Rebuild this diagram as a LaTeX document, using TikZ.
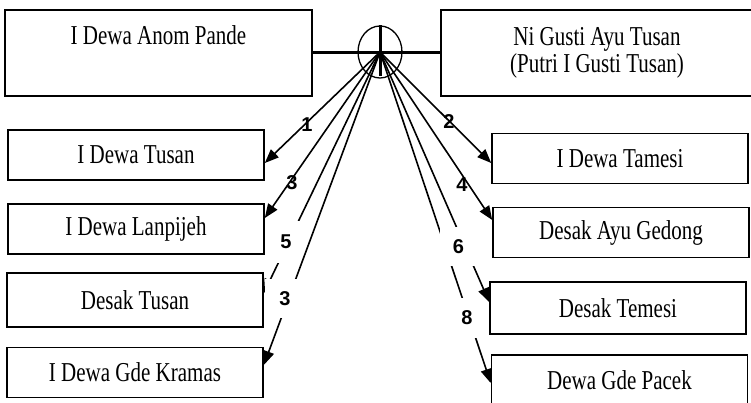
\documentclass[tikz,border=0pt]{standalone}
\usepackage{fontspec}
\setmainfont{Liberation Serif}
\newfontfamily\digitfont{Liberation Sans}
\usepackage{graphicx}
\usetikzlibrary{positioning, arrows.meta, shapes}
\newcommand{\tallText}[1]{\scalebox{1}[1.3]{#1}}

\begin{document}
\begin{tikzpicture}[
		x=1pt, y=-1pt,
		% GLOBAL CFG
		font=\fontsize{21}{27}\selectfont,
		>={Triangle[length=14pt,width=11pt]},
		% Styles
		parent/.style={% For the two parents
			rectangle,
			draw,
			line width=1.6pt,
			align=center,
			minimum height=86pt,
		},
		child/.style={% For the children
			rectangle,
			draw,
			line width=1.6pt,
			minimum width=256pt,
			minimum height=50pt,
		},
		knot/.style={% The marriage sign
			ellipse,
			draw,
			line width=1.3pt,
			minimum width=44pt,
			minimum height=52pt,
		},
		num/.style={% Birth order numbers
			font=\digitfont\bfseries\fontsize{20}{20}\selectfont,
			inner sep=1pt,
		},
		numbox/.style={% Numbers whose box hides the lines
			num,
			fill=white,
		},
		descent/.style={% Lines down to the children
			->,
			line width=1.6pt,
		},
		]
		\useasboundingbox (0,0) rectangle (751,403);
		\clip (0,0) rectangle (751,403);
		
		% Draw the parents
		\node [parent, minimum width=307pt,
			label={[anchor=north, inner sep=0pt, yshift=-16pt]north:\tallText{I Dewa Anom Pande}}] (father) at (158.5,53) {};
		\node [parent, minimum width=312pt] (mother) at (597,53) {\tallText{Ni Gusti Ayu Tusan}\\\tallText{(Putri I Gusti Tusan)}};
		\node [knot] (marriage) at (380,52) {};
		
		% Draw the children, left side named c1,c3,c5,c7
		\node [child] (c1) at (136,155) {\tallText{I Dewa Tusan}};
		\node [child] (c3) at (136,229) {\tallText{I Dewa Lanpijeh}};
		\node [child, minimum height=54pt] (c5) at (135,300) {\tallText{Desak Tusan}};
		\node [child] (c7) at (135,372.5) {\tallText{I Dewa Gde Kramas}};
		
		% Right side named c2,c4,c6,c8
		\node [child] (c2) at (620,158.5) {\tallText{I Dewa Tamesi}};
		\node [child] (c4) at (621,232.5) {\tallText{Desak Ayu Gedong}};
		\node [child, minimum height=52pt] (c6) at (618,308) {\tallText{Desak Temesi}};
		\node [child] (c8) at (619.5,380) {\tallText{Dewa Gde Pacek}};
		
		% The marriage cross
		\draw [line width=3pt] (father.east) -- (mother.west);
		\draw [line width=3pt] (marriage.north) -- ([yshift=3pt]marriage.south);
		
		% Drawing arrows
		\draw [descent] (marriage.center) -- ([yshift=-8pt]c1.east);
		\draw [descent] (marriage.center) -- ([yshift=11pt]c3.east);
		\draw [descent] (marriage.center) -- ([yshift=7pt]c5.east);
		\draw [descent] (marriage.center) -- ([yshift=7.5pt]c7.east);
		\draw [descent] (marriage.center) -- ([yshift=-4.5pt]c2.west);
		\draw [descent] (marriage.center) -- ([yshift=12.5pt]c4.west);
		\draw [descent] (marriage.center) -- ([yshift=6pt]c6.west);
		\draw [descent] (marriage.center) -- ([yshift=-3pt]c8.west);
		
		% Numbers
		\node [num] (n1) at (307,125) {1};
		\node [num] (n3) at (292,183) {3};
		\node [numbox, minimum width=28pt, minimum height=42pt] (n5) at (286,242) {5};
		\node [numbox, minimum width=40pt, minimum height=39pt] (n7) at (285,298.5) {3};
		\node [num] (n2) at (449,122) {2};
		\node [num] (n4) at (462,185) {4};
		\node [numbox, minimum width=37pt, minimum height=39pt] (n6) at (458.5,246.5) {6};
		\node [numbox, minimum width=30pt, minimum height=40pt] (n8) at (467,318) {8};
		
	\end{tikzpicture}
\end{document}
